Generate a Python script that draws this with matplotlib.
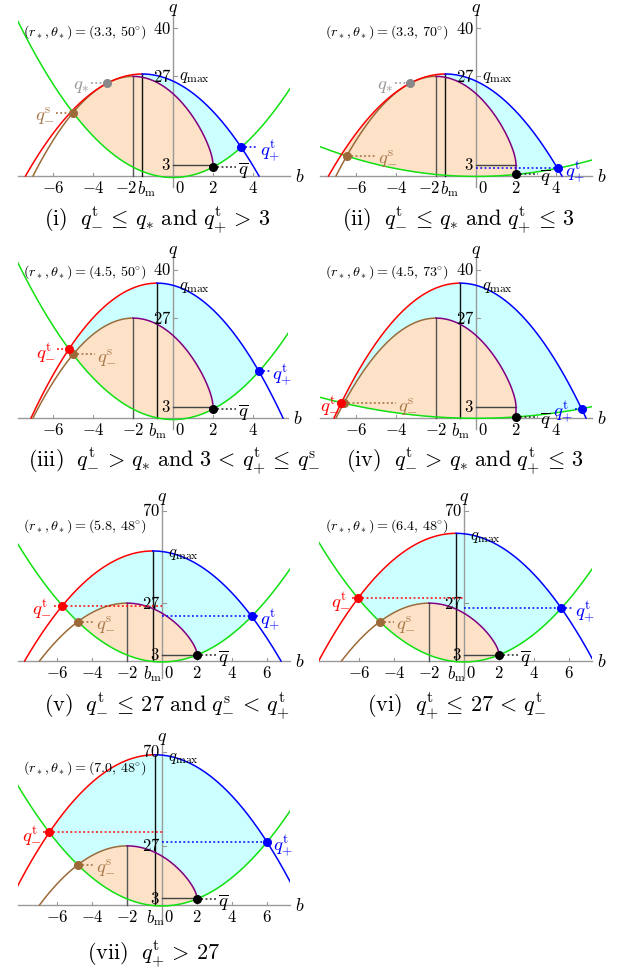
import numpy as np
import matplotlib
matplotlib.use('Agg')
import matplotlib.pyplot as plt

plt.rcParams['mathtext.fontset'] = 'cm'
plt.rcParams['font.family'] = 'serif'

W, H = 626, 970

# ---------------- data ----------------
panel_ids = ['i', 'ii', 'iii', 'iv', 'v', 'vi', 'vii']
r_star = [3.3, 3.3, 4.5, 4.5, 5.8, 6.4, 7.0]
theta_star_deg = [50, 70, 50, 73, 48, 48, 48]
b_ticks = [[-6, -4, -2, 0, 2, 4]] * 4 + [[-6, -4, -2, 0, 2, 4, 6]] * 3
q_ticks = [[3, 27, 40]] * 4 + [[3, 27, 70]] * 3
q_crit_top = 27      # critical curve maximum (at b = -2)
b_crit_top = -2
q_line = 3           # horizontal reference line q = 3 (0 <= b <= 2)
b_nhek = 2
spin = 1.0           # extremal Kerr

LE = r"\,\leq\,"
LT = r"\,<\,"
GT = r"\,>\,"
captions = [
    r"$\mathrm{(i)}\ \ q^{\mathrm{t}}_{-}" + LE + r"q_{*}\ \mathrm{and}\ q^{\mathrm{t}}_{+}" + GT + "3$",
    r"$\mathrm{(ii)}\ \ q^{\mathrm{t}}_{-}" + LE + r"q_{*}\ \mathrm{and}\ q^{\mathrm{t}}_{+}" + LE + "3$",
    r"$\mathrm{(iii)}\ \ q^{\mathrm{t}}_{-}" + GT + r"q_{*}\ \mathrm{and}\ 3" + LT + r"q^{\mathrm{t}}_{+}" + LE + r"q^{\mathrm{s}}_{-}$",
    r"$\mathrm{(iv)}\ \ q^{\mathrm{t}}_{-}" + GT + r"q_{*}\ \mathrm{and}\ q^{\mathrm{t}}_{+}" + LE + "3$",
    r"$\mathrm{(v)}\ \ q^{\mathrm{t}}_{-}" + LE + r"27\ \mathrm{and}\ q^{\mathrm{s}}_{-}" + LT + r"q^{\mathrm{t}}_{+}$",
    r"$\mathrm{(vi)}\ \ q^{\mathrm{t}}_{+}" + LE + "27" + LT + r"q^{\mathrm{t}}_{-}$",
    r"$\mathrm{(vii)}\ \ q^{\mathrm{t}}_{+}" + GT + "27$",
]

# ---------------- layout (pixels) ----------------
layout = [
    dict(x0=173, y0=177, sx=20, sy=3.69, b=(-7.75, 5.85), q=(-3, 43.5), cap=(157, 221), ann=(23, 32)),
    dict(x0=476, y0=177, sx=20, sy=3.69, b=(-7.8, 5.8), q=(-3, 43.5), cap=(458, 221), ann=(325, 32)),
    dict(x0=173, y0=419, sx=20, sy=3.7, b=(-7.75, 5.75), q=(-3, 43.5), cap=(174, 462), ann=(23, 272)),
    dict(x0=476, y0=419, sx=20, sy=3.7, b=(-7.8, 5.8), q=(-3, 43.5), cap=(465, 462), ann=(325, 272)),
    dict(x0=162, y0=662, sx=17.5, sy=2.143, b=(-8.23, 7.31), q=(-8, 73.3), cap=(167, 707), ann=(23, 526)),
    dict(x0=464, y0=662, sx=17.5, sy=2.143, b=(-8.29, 7.31), q=(-8, 73.3), cap=(457, 707), ann=(325, 526)),
    dict(x0=162, y0=906, sx=17.5, sy=2.19, b=(-8.23, 7.31), q=(-8, 73.5), cap=(154, 955), ann=(23, 768)),
]
labels = [
    dict(star=('r', -4.2), sm=('r', -5.95), tm=None, tp=('l', 4.35), qbar=3.25, tm_axis=False, tp_axis=False),
    dict(star=('r', -4.15), sm=('l', -4.9), tm=None, tp=('l', 4.45), qbar=3.2, tm_axis=False, tp_axis=True),
    dict(star=None, sm=('l', -3.8), tm=('r', -5.9), tp=('l', 4.95), qbar=3.25, tm_axis=False, tp_axis=False),
    dict(star=None, sm=('l', -3.9), tm=('r', -6.85), tp=('r', 4.85), qbar=3.2, tm_axis=False, tp_axis=False),
    dict(star=None, sm=('l', -3.8), tm=('r', -6.3), tp=('l', 5.6), qbar=3.2, tm_axis=True, tp_axis=True),
    dict(star=None, sm=('l', -3.9), tm=('r', -6.5), tp=('l', 6.35), qbar=3.2, tm_axis=True, tp_axis=True),
    dict(star=None, sm=('l', -3.8), tm=('r', -6.9), tp=('l', 6.35), qbar=3.2, tm_axis=True, tp_axis=True),
]

C_RED, C_BLUE, C_GREEN = '#FF0000', '#0000FF', '#11E011'
C_BROWN, C_PURPLE = '#9C6A38', '#800080'
C_OR, C_CY = '#FDE2C8', '#CCFFFF'
C_AX = '#999999'

FS_TICK = 12
FS_LAB = 13.5


def crit_of_r(r):
    a = spin
    b = -(r**3 - 3 * r**2 + a**2 * r + a**2) / (a * (r - 1))
    q = r**3 * (4 * a**2 - r * (r - 3)**2) / (a**2 * (r - 1)**2)
    return b, q


def crit_b(b):
    r = 1 + np.sqrt(np.clip(2 - b, 0, None))
    return r**3 * (4 - r)


def env(b, rs):
    a = spin
    D = rs**2 - 2 * rs + a**2
    return (rs**2 + a**2 - a * b)**2 / D - (b - a)**2


def green(b, th):
    return b**2 / np.tan(th)**2 - spin**2 * np.cos(th)**2


def root(f, lo, hi):
    flo = f(lo)
    for _ in range(80):
        mid = 0.5 * (lo + hi)
        fm = f(mid)
        if np.sign(fm) == np.sign(flo):
            lo, flo = mid, fm
        else:
            hi = mid
    return 0.5 * (lo + hi)


fig = plt.figure(figsize=(W / 100, H / 100), dpi=100)
fig.patch.set_facecolor('white')

DOT = (0, (1.2, 1.6))

for k in range(7):
    L = layout[k]
    S = labels[k]
    rs = r_star[k]
    th = np.radians(theta_star_deg[k])
    x0, y0, sx, sy = L['x0'], L['y0'], L['sx'], L['sy']
    blo, bhi = L['b']
    qlo, qhi = L['q']
    left = x0 + blo * sx
    right = x0 + bhi * sx
    top = y0 - qhi * sy
    bottom = y0 - qlo * sy
    ax = fig.add_axes([left / W, 1 - bottom / H, (right - left) / W, (bottom - top) / H])
    ax.set_xlim(blo, bhi)
    ax.set_ylim(qlo, qhi)
    ax.axis('off')

    def P(px_x, px_y):
        return (px_x - x0) / sx, (y0 - px_y) / sy

    dxp = 1.0 / sx
    dyp = 1.0 / sy

    bm = 2 / (2 - rs)
    qm = env(bm, rs)
    b0 = (rs**2 - rs + 2) / (2 - rs)
    b1 = rs + 1
    bstar = -rs**2 + 2 * rs + 1 if rs <= 4 else -np.inf

    # fills
    bO = np.linspace(blo, b_nhek, 3000)
    upO = np.where(bO < bstar, env(bO, rs), crit_b(bO))
    loO = green(bO, th)
    ax.fill_between(bO, loO, upO, where=upO > loO, interpolate=True,
                    color=C_OR, lw=0, zorder=1)
    bL = np.linspace(blo, b_nhek, 3000)
    bR = np.linspace(b_nhek, bhi, 1500)
    bC = np.concatenate([bL, bR])
    loC = np.concatenate([np.maximum(green(bL, th), crit_b(bL)), green(bR, th)])
    upC = env(bC, rs)
    ax.fill_between(bC, loC, upC, where=(upC > loC) & (bC >= bstar), interpolate=True,
                    color=C_CY, lw=0, zorder=1)

    # axes lines
    ax.plot([blo, bhi], [0, 0], color=C_AX, lw=1.0, zorder=2, clip_on=False)
    ax.plot([0, 0], [qlo, qhi], color=C_AX, lw=1.0, zorder=2, clip_on=False)
    close = abs(bm - b_crit_top) < 0.7
    for bt in b_ticks[k]:
        if bt != 0:
            ax.plot([bt, bt], [0, 3.5 * dyp], color=C_AX, lw=0.8, zorder=2)
        xoff = 0
        if bt == 0:
            xoff = 7 * dxp
        if bt == b_crit_top and close:
            xoff = -7 * dxp
        lab = r"$%d$" % bt if bt >= 0 else r"$-%d$" % (-bt)
        ax.text(bt + xoff, -12 * dyp, lab, ha='center', va='center', fontsize=FS_TICK, zorder=5)
    for qt in q_ticks[k]:
        ax.plot([0, 3.5 * dxp], [qt, qt], color=C_AX, lw=0.8, zorder=2)
        ax.text(-2 * dxp, qt, r"$%d$" % qt, ha='right', va='center', fontsize=FS_TICK, zorder=5)
    ax.text(bhi + 10 * dxp, 0, r"$b$", ha='center', va='center', fontsize=13)
    ax.text(0, qhi + 7 * dyp, r"$q$", ha='center', va='center', fontsize=13)

    # reference lines
    ax.plot([b_crit_top, b_crit_top], [0, q_crit_top], color='#555555', lw=1.0, zorder=3)
    ax.plot([bm, bm], [0, qm], color='#111111', lw=1.0, zorder=3)
    ax.plot([0, b_nhek], [q_line, q_line], color='#444444', lw=1.0, zorder=3)
    ax.text(bm + (4 * dxp if close else 0), -12 * dyp, r"$b_{\mathrm{m}}$", ha='center', va='center',
            fontsize=FS_TICK, zorder=5)
    ax.text(6 * dxp, qm - 2 * dyp, r"$q_{\max}$", ha='left', va='center', fontsize=FS_TICK, zorder=5)

    # curves
    bg = np.linspace(blo, bhi, 800)
    ax.plot(bg, green(bg, th), color=C_GREEN, lw=1.1, zorder=4)
    rb = np.linspace(3, 4, 300)
    cb, cq = crit_of_r(rb)
    ax.plot(cb, cq, color=C_BROWN, lw=1.1, zorder=4)
    rp = np.linspace(3, 1.0005, 400)
    pb, pq = crit_of_r(rp)
    qbar = green(b_nhek, th)
    pb = np.append(pb, [b_nhek, b_nhek])
    pq = np.append(pq, [q_line, qbar])
    ax.plot(pb, pq, color=C_PURPLE, lw=1.1, zorder=4)
    br = np.linspace(b0, bm, 400)
    ax.plot(br, env(br, rs), color=C_RED, lw=1.1, zorder=4)
    bb = np.linspace(bm, b1, 400)
    ax.plot(bb, env(bb, rs), color=C_BLUE, lw=1.1, zorder=4)

    # special points
    b_tm = root(lambda x: env(x, rs) - green(x, th), b0, bm)
    q_tm = green(b_tm, th)
    b_tp = root(lambda x: env(x, rs) - green(x, th), bm, b1)
    q_tp = green(b_tp, th)
    b_sm = root(lambda x: crit_b(x) - green(x, th), -7, -2)
    q_sm = green(b_sm, th)

    def lab_and_dot(bp, qp, spec, text, color, dcolor):
        side, bl = spec
        ax.text(bl, qp - 2 * dyp, text, ha='right' if side == 'r' else 'left', va='center',
                fontsize=FS_LAB, color=color, zorder=9)
        if side == 'r':
            if bl + 0.1 < bp:
                ax.plot([bl + 0.1, bp], [qp, qp], color=dcolor, lw=1.1, ls=DOT, zorder=6)
        else:
            if bl - 0.1 > bp:
                ax.plot([bp, bl - 0.1], [qp, qp], color=dcolor, lw=1.1, ls=DOT, zorder=6)

    MS = 5.5
    if S['star'] is not None:
        bs_, qs_ = bstar, crit_b(bstar)
        lab_and_dot(bs_, qs_, S['star'], r"$q_{*}$", '#999999', '#999999')
        ax.plot(bs_, qs_, 'o', color='#888888', ms=MS, zorder=10, clip_on=False)
    # q_-^s
    lab_and_dot(b_sm, q_sm, S['sm'], r"$q^{\mathrm{s}}_{-}$", '#A87A4C', C_BROWN)
    ax.plot(b_sm, q_sm, 'o', color=C_BROWN, ms=MS, zorder=10, clip_on=False)
    # q_-^t
    if S['tm'] is not None:
        if S['tm_axis']:
            ax.plot([b_tm, 0], [q_tm, q_tm], color=C_RED, lw=1.1, ls=DOT, zorder=6)
        lab_and_dot(b_tm, q_tm, S['tm'], r"$q^{\mathrm{t}}_{-}$", C_RED, C_RED)
        ax.plot(b_tm, q_tm, 'o', color=C_RED, ms=MS, zorder=11, clip_on=False)
    # q_+^t
    if S['tp_axis']:
        ax.plot([0, b_tp], [q_tp, q_tp], color=C_BLUE, lw=1.1, ls=DOT, zorder=6)
    lab_and_dot(b_tp, q_tp, S['tp'], r"$q^{\mathrm{t}}_{+}$", C_BLUE, C_BLUE)
    ax.plot(b_tp, q_tp, 'o', color=C_BLUE, ms=MS, zorder=10, clip_on=False)
    # q bar
    ax.plot([b_nhek, S['qbar'] - 0.1], [qbar, qbar], color='#222222', lw=1.1, ls=DOT, zorder=6)
    ax.text(S['qbar'], qbar - 2 * dyp, r"$\overline{q}$", ha='left', va='center', fontsize=FS_LAB, zorder=9)
    ax.plot(b_nhek, qbar, 'o', color='#000000', ms=MS, zorder=10, clip_on=False)

    # annotation
    ab, aq = P(*L['ann'])
    ax.text(ab, aq, r"$(r_*,\theta_*)=(%.1f,\,%d^{\circ})$" % (rs, theta_star_deg[k]),
            ha='left', va='center', fontsize=10.2, zorder=9)

    # caption
    cx, cy = L['cap']
    fig.text(cx / W, 1 - cy / H, captions[k], ha='center', va='center', fontsize=16)

fig.savefig('out.png', dpi=100, facecolor='white')
